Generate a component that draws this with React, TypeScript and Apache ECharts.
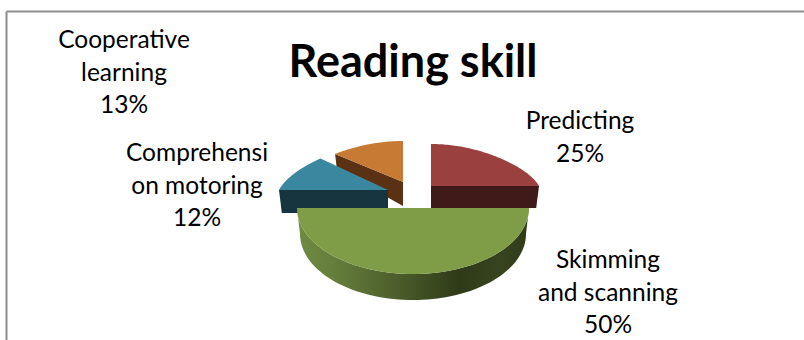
import React, { useEffect, useRef } from "react";
import * as echarts from "echarts";

const chartTitle = "Reading skill";
const skillNames = ["Predicting", "Skimming and scanning", "Comprehension motoring", "Cooperative learning"];
const skillLabels = ["Predicting", "Skimming\nand scanning", "Comprehensi\non motoring", "Cooperative\nlearning"];
const skillShares = [25, 50, 12, 13];

const FONT = "Lato, Carlito, Calibri, sans-serif";

// Drawing order and projection for each wedge of the tilted pie.
const wedges = [
  { cx: 431, cy: 186, rx: 108, ryBack: 42, ryFront: 66, depth: 22, top: "#9a403e", wall: "#3f1a18", wallAt: "end", labelX: 580, labelY: 136 },
  { cx: 413, cy: 208, rx: 116, ryBack: 42, ryFront: 66, depth: 26, top: "#7f9c47", wall: "", wallAt: "arc", labelX: 608, labelY: 291 },
  { cx: 388, cy: 190, rx: 109, ryBack: 46, ryFront: 66, depth: 23, top: "#39889f", wall: "#17353e", wallAt: "start", labelX: 197, labelY: 184 },
  { cx: 403, cy: 182, rx: 68 / 0.62, ryBack: 41, ryFront: 66, depth: 24, top: "#c67a33", wall: "#5a3213", wallAt: "start", labelX: 124, labelY: 71 },
];
const paintOrder = [3, 2, 0, 1];

const NARROWING = 0.22;
const DEPTH_FADE = 0.55;
const DEPTH_INSET = 0.026;

type Wedge = (typeof wedges)[number];

// Maps an angle (clockwise from twelve o'clock), a radius fraction and a drop fraction to the page.
function project(w: Wedge, theta: number, r: number, z: number): number[] {
  const s = Math.sin(theta);
  const c = Math.cos(theta);
  const back = Math.max(c, 0);
  const x = w.rx * r * s * (1 - NARROWING * back);
  const y = -r * c * (c > 0 ? w.ryBack : w.ryFront);
  const drop = w.depth * z * (1 - DEPTH_FADE * r * back);
  return [w.cx + x * (1 - DEPTH_INSET * z), w.cy + y + drop];
}

function arcPoints(w: Wedge, from: number, to: number, z: number): number[][] {
  const pts: number[][] = [];
  const steps = 72;
  for (let i = 0; i <= steps; i++) {
    pts.push(project(w, from + ((to - from) * i) / steps, 1, z));
  }
  return pts;
}

const total = skillShares.reduce((a, b) => a + b, 0);
const startShares = skillShares.map((_, i) => skillShares.slice(0, i).reduce((a, b) => a + b, 0));

function renderWedge(_params: any, api: any) {
  const index = api.value(0) as number;
  const w = wedges[index];
  const from = (api.value(1) / total) * Math.PI * 2;
  const to = ((api.value(1) + api.value(2)) / total) * Math.PI * 2;
  const children: any[] = [];

  if (w.wallAt === "arc") {
    const upper = arcPoints(w, from, to, 0);
    const lower = arcPoints(w, from, to, 1).reverse();
    children.push({
      type: "polygon",
      shape: { points: upper.concat(lower) },
      style: {
        fill: new echarts.graphic.LinearGradient(0, 0, 1, 0, [
          { offset: 0, color: "#6f8b42" },
          { offset: 0.15, color: "#667f3c" },
          { offset: 0.42, color: "#4c5f2c" },
          { offset: 0.7, color: "#2f3a18" },
          { offset: 0.88, color: "#38441f" },
          { offset: 1, color: "#2f3a18" },
        ]),
      },
    });
  } else {
    const theta = w.wallAt === "start" ? from : to;
    children.push({
      type: "polygon",
      shape: {
        points: [project(w, theta, 0, 0), project(w, theta, 1, 0), project(w, theta, 1, 1), project(w, theta, 0, 1)],
      },
      style: { fill: w.wall },
    });
  }

  children.push({
    type: "polygon",
    shape: { points: [project(w, from, 0, 0), ...arcPoints(w, from, to, 0)] },
    style: { fill: w.top },
  });

  return { type: "group", children };
}

export default function App() {
  const ref = useRef<HTMLDivElement>(null);

  useEffect(() => {
    const chart = echarts.init(ref.current!, undefined, { renderer: "svg" });
    chart.setOption({
      animation: false,
      backgroundColor: "#ffffff",
      title: {
        text: chartTitle,
        left: 408,
        top: 32,
        textAlign: "center",
        textStyle: { fontFamily: FONT, fontSize: 45, fontWeight: "bold", color: "#000000" },
      },
      graphic: [
        { type: "line", shape: { x1: 6.5, y1: 11.5, x2: 804, y2: 11.5 }, style: { stroke: "#8c8c8c", lineWidth: 2 } },
        { type: "line", shape: { x1: 6.5, y1: 11.5, x2: 6.5, y2: 340 }, style: { stroke: "#8c8c8c", lineWidth: 2 } },
        ...skillLabels.map((label, i) => ({
          type: "text",
          x: wedges[i].labelX,
          y: wedges[i].labelY,
          style: {
            text: `${label}\n${skillShares[i]}%`,
            align: "center",
            verticalAlign: "middle",
            fontFamily: FONT,
            fontSize: 24.5,
            lineHeight: 32.5,
            fill: "#000000",
          },
        })),
      ],
      series: [
        {
          type: "custom",
          coordinateSystem: "none",
          name: chartTitle,
          renderItem: renderWedge,
          data: paintOrder.map((i) => ({
            name: skillNames[i],
            value: [i, startShares[i], skillShares[i]],
          })),
        },
      ],
    });
    return () => chart.dispose();
  }, []);

  return <div ref={ref} style={{ position: "absolute", left: 0, top: 0, width: 804, height: 340 }} />;
}
